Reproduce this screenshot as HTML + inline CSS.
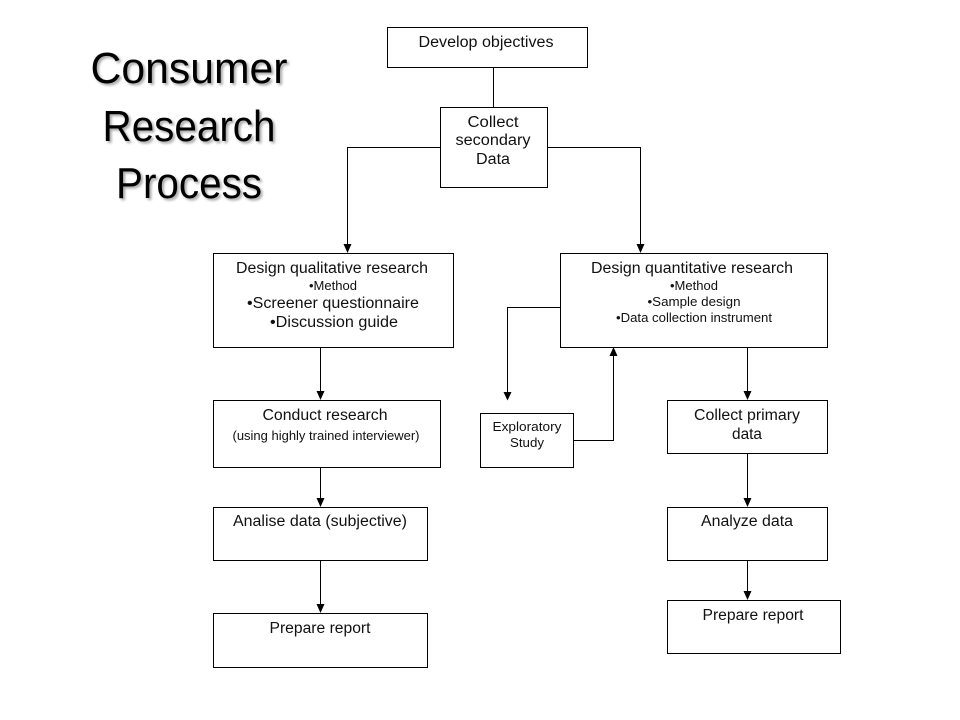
<!DOCTYPE html>
<html><head><meta charset="utf-8"><style>
html,body{margin:0;padding:0;background:#fff}
svg{display:block}
text{font-family:"Liberation Sans",sans-serif;fill:#111;text-anchor:middle}
.t{font-size:44px;fill:#000;filter:url(#s);font-weight:400}
.a{font-size:15.5px}.b{font-size:12.500px}
rect{fill:#fff;stroke:#000;stroke-width:1}
path.l{fill:none;stroke:#000;stroke-width:1}
path.h{fill:#000;stroke:none}
</style></head><body>
<svg width="960" height="720" viewBox="0 0 960 720" xmlns="http://www.w3.org/2000/svg">
<defs><filter id="s" x="-10%" y="-20%" width="120%" height="150%"><feDropShadow dx="2" dy="2" stdDeviation="1.300" flood-color="#000" flood-opacity=".35"/></filter></defs>
<text class="t" x="189" y="83" textLength="197" lengthAdjust="spacingAndGlyphs">Consumer</text>
<text class="t" x="189" y="141" textLength="173" lengthAdjust="spacingAndGlyphs">Research</text>
<text class="t" x="189" y="198" textLength="146" lengthAdjust="spacingAndGlyphs">Process</text>

<path class="l" d="M493.500 67V107M440 147.500H347.500V245M547 147.500H640.500V245M320.500 347V392M320.500 467V499M320.500 560V605M747.500 347V392M747.500 453V499M747.500 560V592M560 307.500H507.500V392M573 440.500H613.500V356"/>
<path class="h" d="M343.500 244h8l-4 9zM636.500 244h8l-4 9zM316.500 391h8l-4 9zM316.500 498h8l-4 9zM316.500 604h8l-4 9zM743.500 391h8l-4 9zM743.500 498h8l-4 9zM743.500 591h8l-4 9zM503.500 392h8l-4 8.500zM609.500 356h8l-4 -9z"/>

<rect x="387.500" y="27.500" width="200" height="40"/>
<rect x="440.500" y="107.500" width="107" height="80"/>
<rect x="213.500" y="253.500" width="240" height="94"/>
<rect x="560.500" y="253.500" width="267" height="94"/>
<rect x="213.500" y="400.500" width="227" height="67"/>
<rect x="480.500" y="413.500" width="93" height="54"/>
<rect x="667.500" y="400.500" width="160" height="53"/>
<rect x="213.500" y="507.500" width="214" height="53"/>
<rect x="667.500" y="507.500" width="160" height="53"/>
<rect x="213.500" y="613.500" width="214" height="54"/>
<rect x="667.500" y="600.500" width="173" height="53"/>

<text class="a" x="486" y="47" textLength="135" lengthAdjust="spacingAndGlyphs">Develop objectives</text>
<text class="a" x="493" y="127" textLength="51" lengthAdjust="spacingAndGlyphs">Collect</text>
<text class="a" x="493" y="145" textLength="75" lengthAdjust="spacingAndGlyphs">secondary</text>
<text class="a" x="493" y="164" textLength="34" lengthAdjust="spacingAndGlyphs">Data</text>

<text class="a" x="332" y="273" textLength="192" lengthAdjust="spacingAndGlyphs">Design qualitative research</text>
<text class="b" x="333" y="290" textLength="48" lengthAdjust="spacingAndGlyphs">•Method</text>
<text class="a" x="333" y="308" textLength="172" lengthAdjust="spacingAndGlyphs">•Screener questionnaire</text>
<text class="a" x="334" y="327" textLength="128" lengthAdjust="spacingAndGlyphs">•Discussion guide</text>

<text class="a" x="692" y="273" textLength="202" lengthAdjust="spacingAndGlyphs">Design quantitative research</text>
<text class="b" x="694" y="290" textLength="48" lengthAdjust="spacingAndGlyphs">•Method</text>
<text class="b" x="694" y="306" textLength="93" lengthAdjust="spacingAndGlyphs">•Sample design</text>
<text class="b" x="694" y="322" textLength="156" lengthAdjust="spacingAndGlyphs">•Data collection instrument</text>

<text class="a" x="325" y="420" textLength="125" lengthAdjust="spacingAndGlyphs">Conduct research</text>
<text class="b" x="326" y="440" textLength="187" lengthAdjust="spacingAndGlyphs">(using highly trained interviewer)</text>

<text class="b" x="527" y="431" textLength="69" lengthAdjust="spacingAndGlyphs">Exploratory</text>
<text class="b" x="527" y="447" textLength="34" lengthAdjust="spacingAndGlyphs">Study</text>

<text class="a" x="747" y="420" textLength="106" lengthAdjust="spacingAndGlyphs">Collect primary</text>
<text class="a" x="747" y="439" textLength="30" lengthAdjust="spacingAndGlyphs">data</text>

<text class="a" x="320" y="526" textLength="174" lengthAdjust="spacingAndGlyphs">Analise data (subjective)</text>
<text class="a" x="747" y="526" textLength="92" lengthAdjust="spacingAndGlyphs">Analyze data</text>
<text class="a" x="320" y="633" textLength="101" lengthAdjust="spacingAndGlyphs">Prepare report</text>
<text class="a" x="753" y="620" textLength="101" lengthAdjust="spacingAndGlyphs">Prepare report</text>
</svg>
</body></html>
